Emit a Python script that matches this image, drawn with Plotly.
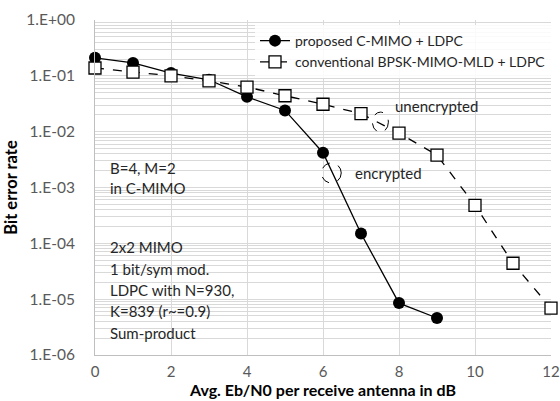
import plotly.graph_objects as go

snr = [0, 1, 2, 3, 4, 5, 6, 7, 8, 9, 10, 11, 12]
ber_proposed = [0.21, 0.17, 0.112, 0.085, 0.042, 0.024, 0.0042, 1.5e-4, 8.5e-6, 4.6e-6]
ber_conventional = [0.138, 0.117, 0.1, 0.081, 0.063, 0.044, 0.031, 0.021, 0.0094, 0.0038, 4.8e-4, 4.4e-5, 6.9e-6]
ytick_vals = [1e0, 1e-1, 1e-2, 1e-3, 1e-4, 1e-5, 1e-6]
ytick_text = ["1.E+00", "1.E-01", "1.E-02", "1.E-03", "1.E-04", "1.E-05", "1.E-06"]
xtick_vals = [0, 2, 4, 6, 8, 10, 12]

FONT = "Lato"
fig = go.Figure()
fig.add_trace(go.Scatter(
    x=snr[:len(ber_proposed)], y=ber_proposed, mode="lines+markers",
    name="proposed C-MIMO + LDPC",
    line=dict(color="black", width=1.3),
    marker=dict(symbol="circle", size=12, color="black"),
    cliponaxis=False,
))
fig.add_trace(go.Scatter(
    x=snr, y=ber_conventional, mode="lines+markers",
    name="conventional BPSK-MIMO-MLD + LDPC",
    line=dict(color="black", width=1.3, dash="dash"),
    marker=dict(symbol="square", size=12, color="white", line=dict(color="black", width=1.3)),
    cliponaxis=False,
))

# dashed ellipses (centre x, centre log10 y, half width x, half height in decades)
for cx, cly, hx, hly in [(7.51, -1.83, 0.21, 0.18), (6.22, -2.74, 0.26, 0.18)]:
    fig.add_shape(type="circle", xref="x", yref="y",
                  x0=cx - hx, x1=cx + hx, y0=10 ** (cly - hly), y1=10 ** (cly + hly),
                  line=dict(color="black", width=1, dash="dash"))

notes = [
    ("unencrypted", 7.83, -1.54),
    ("encrypted", 6.78, -2.74),
    ("B=4, M=2", 0.33, -2.65),
    ("in C-MIMO", 0.33, -3.01),
    ("2x2 MIMO", 0.33, -4.07),
    ("1 bit/sym mod.", 0.33, -4.46),
    ("LDPC with N=930,", 0.33, -4.84),
    ("K=839 (r~=0.9)", 0.33, -5.22),
    ("Sum-product", 0.33, -5.61),
]
for t, x, ly in notes:
    fig.add_annotation(text=t, x=x, y=ly, xref="x", yref="y", showarrow=False,
                       xanchor="left", yanchor="middle",
                       font=dict(family=FONT, size=15, color="#262626"))

fig.update_layout(
    width=560, height=401,
    margin=dict(l=95, r=9, t=20, b=46),
    paper_bgcolor="white", plot_bgcolor="white",
    font=dict(family=FONT, size=13, color="#595959"),
    showlegend=True,
    legend=dict(x=1.0, y=0.985, xanchor="right", yanchor="top",
                bgcolor="rgba(255,255,255,0.85)", borderwidth=0,
                font=dict(family=FONT, size=14, color="#262626"),
                tracegroupgap=0, itemwidth=30),
)
fig.update_xaxes(range=[0, 12], tickvals=xtick_vals, showgrid=True, gridcolor="#d9d9d9",
                 gridwidth=1, zeroline=False, showline=True, linecolor="#bfbfbf",
                 ticks="", ticklabelstandoff=3, automargin=False,
                 tickfont=dict(family=FONT, size=15, color="#595959"),
                 title=dict(text="<b>Avg. Eb/N0 per receive antenna in dB</b>", standoff=2,
                            font=dict(family=FONT, size=16, color="black")))
fig.update_yaxes(type="log", range=[-6, 0], tickvals=ytick_vals, ticktext=ytick_text,
                 showgrid=True, gridcolor="#d9d9d9", gridwidth=1, zeroline=False,
                 showline=True, linecolor="#bfbfbf", ticks="", ticklabelstandoff=16,
                 automargin=False,
                 minor=dict(dtick="D1", showgrid=True, gridcolor="#d9d9d9", gridwidth=1),
                 tickfont=dict(family=FONT, size=15.5, color="#595959"),
                 title=dict(text="<b>Bit error rate</b>", standoff=4,
                            font=dict(family=FONT, size=16.5, color="black")))
fig.write_html("out.html")
